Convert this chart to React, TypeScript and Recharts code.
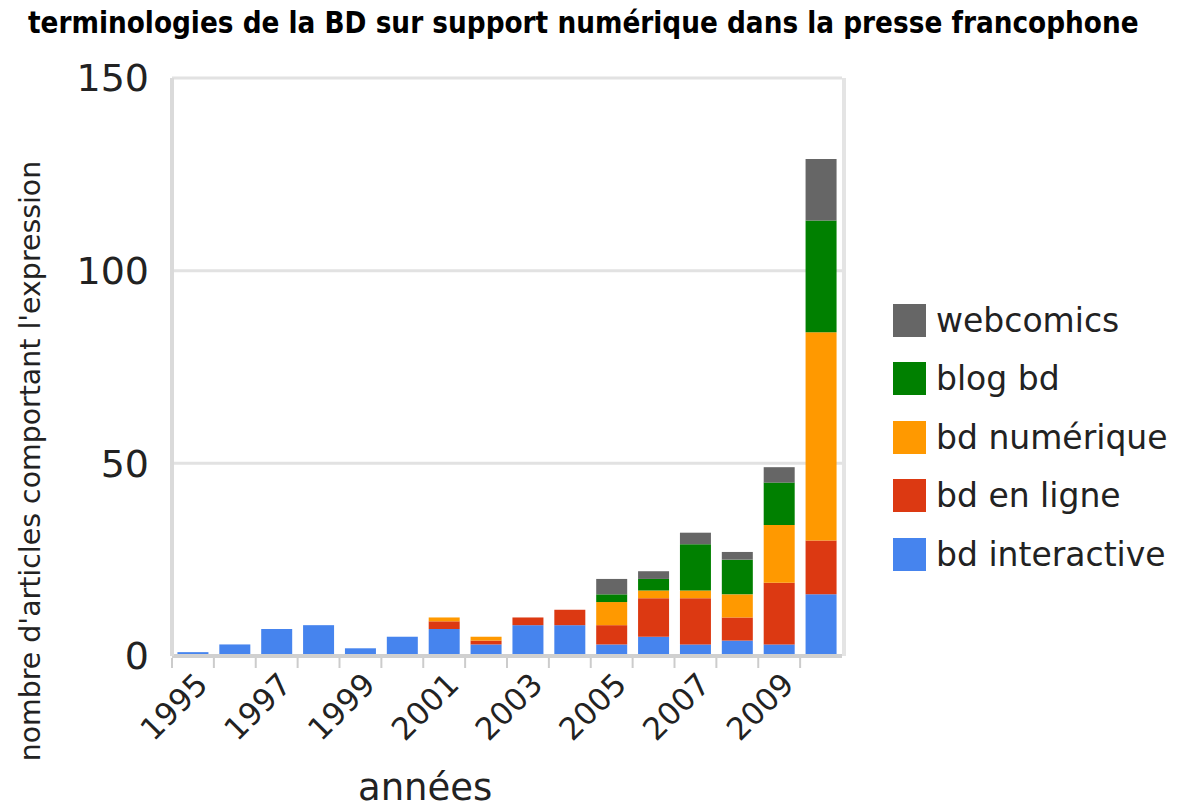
import { BarChart, Bar, XAxis, YAxis, CartesianGrid } from "recharts"

const years = ["1995", "1996", "1997", "1998", "1999", "2000", "2001", "2002", "2003", "2004", "2005", "2006", "2007", "2008", "2009", "2010"]
const bdInteractive = [1, 3, 7, 8, 2, 5, 7, 3, 8, 8, 3, 5, 3, 4, 3, 16]
const bdEnLigne = [0, 0, 0, 0, 0, 0, 2, 1, 2, 4, 5, 10, 12, 6, 16, 14]
const bdNumerique = [0, 0, 0, 0, 0, 0, 1, 1, 0, 0, 6, 2, 2, 6, 15, 54]
const blogBd = [0, 0, 0, 0, 0, 0, 0, 0, 0, 0, 2, 3, 12, 9, 11, 29]
const webcomics = [0, 0, 0, 0, 0, 0, 0, 0, 0, 0, 4, 2, 3, 2, 4, 16]
const yTicks = [0, 50, 100, 150]

const series = [
  { key: "webcomics", color: "#666666" },
  { key: "blog bd", color: "#008000" },
  { key: "bd numérique", color: "#ff9900" },
  { key: "bd en ligne", color: "#dc3912" },
  { key: "bd interactive", color: "#4684ee" },
]

const data = years.map((y, i) => ({
  year: y,
  "bd interactive": bdInteractive[i],
  "bd en ligne": bdEnLigne[i],
  "bd numérique": bdNumerique[i],
  "blog bd": blogBd[i],
  webcomics: webcomics[i],
}))

const FONT = "'DejaVu Sans', sans-serif"

const YearTick = (props: any) => {
  const { x, y, payload, index } = props
  const half = 670 / years.length / 2
  const ax = x
  const ay = y + 6
  return (
    <g>
      <line x1={x - half} x2={x - half} y1={y - 6} y2={y + 4} stroke="#cccccc" strokeWidth={2} />
      {index % 2 === 0 && (
        <text
          x={ax}
          y={ay}
          textAnchor="end"
          fontSize={31}
          fontFamily={FONT}
          fill="#222"
          transform={`rotate(-45, ${ax}, ${ay})`}
          dominantBaseline="hanging"
        >
          {payload.value}
        </text>
      )}
    </g>
  )
}

export default function App() {
  return (
    <div style={{ position: "absolute", left: 0, top: 0, width: 1178, height: 810, background: "#fff", fontFamily: FONT }}>
      <div
        style={{
          position: "absolute",
          left: 28,
          top: 6,
          fontFamily: "'DejaVu Sans', sans-serif",
          fontStretch: "condensed",
          fontWeight: "bold",
          fontSize: 29.3,
          color: "#000",
          whiteSpace: "nowrap",
        }}
      >
        terminologies de la BD sur support numérique dans la presse francophone
      </div>
      <BarChart
        width={1178}
        height={810}
        data={data}
        margin={{ top: 78, right: 336, bottom: 0, left: 72 }}
        barCategoryGap="13%"
        style={{ position: "absolute", left: 0, top: 0 }}
      >
        <CartesianGrid vertical={false} horizontal={true} stroke="#e2e2e2" strokeWidth={3} />
        <CartesianGrid
          horizontal={false}
          vertical={true}
          stroke="#e4e4e4"
          strokeWidth={4}
          verticalCoordinatesGenerator={({ offset }: any) => [offset.left + offset.width + 2]}
        />
        <XAxis
          dataKey="year"
          interval={0}
          tick={<YearTick />}
          tickLine={false}
          axisLine={{ stroke: "#d0d0d0", strokeWidth: 4 }}
          height={154}
        />
        <YAxis
          ticks={yTicks}
          domain={[0, 150]}
          width={100}
          tickLine={false}
          axisLine={{ stroke: "#dadada", strokeWidth: 4 }}
          tick={{ fontSize: 38, fill: "#222", fontFamily: FONT, dx: -15 }}
        />
        {series
          .slice()
          .reverse()
          .map((s) => (
            <Bar key={s.key} dataKey={s.key} stackId="a" fill={s.color} isAnimationActive={false} />
          ))}
      </BarChart>
      <div
        style={{
          position: "absolute",
          left: 14,
          top: 461,
          transform: "translate(-50%, -50%) rotate(-90deg)",
          transformOrigin: "center",
          fontSize: 28.4,
          color: "#222",
          whiteSpace: "nowrap",
          marginLeft: 16,
        }}
      >
        nombre d'articles comportant l'expression
      </div>
      <div style={{ position: "absolute", left: 358, top: 766, fontSize: 37, color: "#222" }}>années</div>
      <div style={{ position: "absolute", left: 893, top: 291 }}>
        {series.map((s) => (
          <div key={s.key} style={{ display: "flex", alignItems: "center", height: 58.5 }}>
            <div style={{ width: 33, height: 33, background: s.color, marginRight: 10 }} />
            <span style={{ fontSize: 33, color: "#222" }}>{s.key}</span>
          </div>
        ))}
      </div>
    </div>
  )
}
